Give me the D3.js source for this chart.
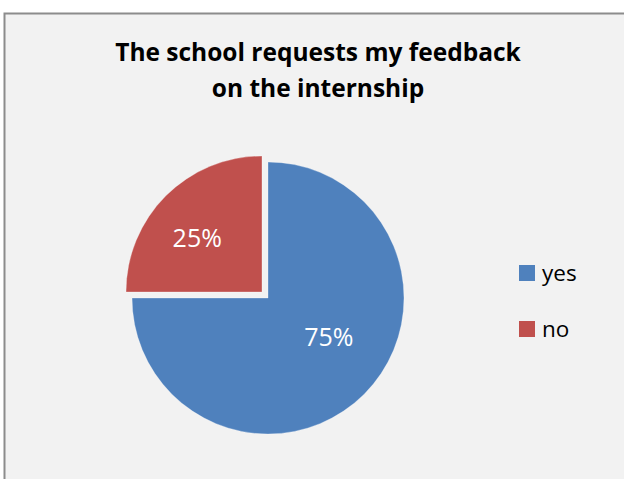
<!DOCTYPE html>
<html>
<head>
<meta charset="utf-8">
<script src="https://cdn.jsdelivr.net/npm/d3@7"></script>
<style>
  body { margin: 0; background: #ffffff; }
  svg { display: block; }
</style>
</head>
<body>
<div id="chartDiv"></div>
<script>
var categories = ["yes", "no"];
var values = [75, 25];
var sliceColors = ["#4f81bd", "#c0504d"];
var titleLines = ["The school requests my feedback", "on the internship"];

function createPieChart() {
    let width = 624;
    let height = 479;

    let svg = d3.select("#chartDiv").append("svg")
        .attr("width", width)
        .attr("height", height);

    // chart frame
    svg.append("rect")
        .attr("x", 4.5)
        .attr("y", 13.5)
        .attr("width", width + 10)
        .attr("height", height + 10)
        .attr("fill", "#f2f2f2")
        .attr("stroke", "#8c8c8c")
        .attr("stroke-width", 2);

    // title
    let title = svg.append("text")
        .attr("text-anchor", "middle")
        .style("font-family", "'Open Sans', sans-serif")
        .style("font-weight", "bold")
        .style("font-size", "24.5px")
        .attr("fill", "#000");
    titleLines.forEach((line, i) => {
        title.append("tspan")
            .attr("x", 318)
            .attr("y", 61 + i * 36)
            .text(line);
    });

    const cx = 268, cy = 298, radius = 136;
    const explode = 8.5;

    let pie = d3.pie().sort(null).value(d => d.value)
        .startAngle(0).endAngle(2 * Math.PI);
    let arc = d3.arc().innerRadius(0).outerRadius(radius);

    let pieData = pie(categories.map((c, i) => ({name: c, value: values[i], color: sliceColors[i]})));

    let g = svg.append("g").attr("transform", `translate(${cx}, ${cy})`);

    let slices = g.selectAll(".slice")
        .data(pieData)
        .enter().append("g")
        .attr("class", "slice")
        .attr("transform", d => {
            if (d.data.name === "no") {
                let mid = (d.startAngle + d.endAngle) / 2;
                return `translate(${Math.sin(mid) * explode}, ${-Math.cos(mid) * explode})`;
            }
            return null;
        });

    slices.append("path")
        .attr("d", arc)
        .attr("fill", d => d.data.color)
        .attr("stroke", "#ffffff")
        .attr("stroke-width", 0.6)
        .attr("stroke-opacity", 0.5);

    // best-fit style label placement: big slices pull the label toward the wider side
    let total = d3.sum(values);
    function labelPos(d) {
        let mid = (d.startAngle + d.endAngle) / 2;
        let share = d.data.value / total;
        let r = share > 0.5 ? radius * 0.53 : radius * 0.62;
        let a = share > 0.5 ? mid - 0.22 : mid - 0.09;
        return [Math.sin(a) * r, -Math.cos(a) * r];
    }

    slices.append("text")
        .attr("transform", d => `translate(${labelPos(d)})`)
        .attr("text-anchor", "middle")
        .attr("dy", "0.36em")
        .style("font-family", "'Open Sans', sans-serif")
        .style("font-size", "25px")
        .attr("fill", "#ffffff")
        .text(d => Math.round(d.data.value / total * 100) + "%");

    // legend
    let legend = svg.append("g").selectAll(".legendItem")
        .data(categories)
        .enter().append("g")
        .attr("class", "legendItem")
        .attr("transform", (d, i) => `translate(519, ${265 + i * 56})`);

    legend.append("rect")
        .attr("width", 16)
        .attr("height", 16)
        .attr("fill", (d, i) => sliceColors[i]);

    legend.append("text")
        .attr("x", 23)
        .attr("y", 16)
        .style("font-family", "'Open Sans', sans-serif")
        .style("font-size", "22.5px")
        .attr("fill", "#000")
        .text(d => d);
}

createPieChart();
</script>
</body>
</html>
